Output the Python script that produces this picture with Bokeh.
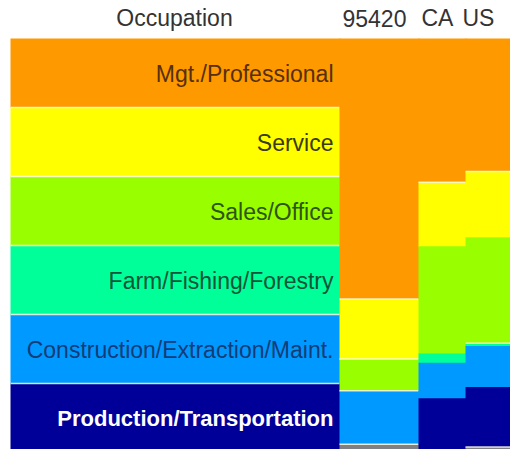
from bokeh.plotting import figure
from bokeh.models import Range1d
from bokeh.core.properties import value
from bokeh.embed import file_html
from bokeh.resources import INLINE

# ---- data ----
occupations = ["Mgt./Professional", "Service", "Sales/Office",
               "Farm/Fishing/Forestry", "Construction/Extraction/Maint.",
               "Production/Transportation"]
areas = ["95420", "CA", "US"]
share_95420 = [62.9, 14.5, 7.7, 0.0, 12.9, 0.0]
share_CA = [34.7, 15.5, 25.9, 2.2, 8.6, 13.1]
share_US = [32.1, 15.9, 25.6, 0.7, 9.9, 14.5]
shares = [share_95420, share_CA, share_US]

# ---- styles / layout ----
fills = ["#FF9900", "#FFFF00", "#99FF00", "#00FF99", "#0099FF", "#000099"]
text_cols = ["#55300a", "#3a3a10", "#2d550d", "#0d5538", "#103c78", "#ffffff"]
rest_col = "#7f7f86"
FONT = "Liberation Sans"

W, H = 510, 449
PX_PER_PCT = 4.14           # pixels per percent
ZERO_IMG = 452.0            # image y of 0 %
def yv(img_y):               # image-pixel y -> data value
    return (ZERO_IMG - img_y) / PX_PER_PCT

LEG_L, LEG_W = 10, 329
COL_W = [79, 47, 45]
OVL = 1.0                   # small overlap to avoid anti-alias seams
OVL_Y = 0.15

p = figure(width=W, height=H, output_backend="svg", toolbar_location=None,
           x_range=Range1d(0, W), y_range=Range1d(yv(H), yv(0)),
           min_border=0, outline_line_color=None)
p.axis.visible = False
p.grid.visible = False
p.background_fill_color = "white"
p.border_fill_color = "white"

sep_kw = dict(line_color="#fffbe0", line_alpha=0.85, line_width=1.5)

# legend column: equal-height rows
n = len(occupations)
row_h = 100.0 / n
tops = [100 - i * row_h for i in range(n)]
bots = [t - row_h for t in tops]
p.quad(left=[LEG_L] * n, right=[LEG_L + LEG_W + OVL] * n, top=tops,
       bottom=[b - OVL_Y for b in bots],
       fill_color=fills, line_color=None)
p.segment(x0=[LEG_L] * (n - 1), x1=[LEG_L + LEG_W] * (n - 1),
          y0=tops[1:], y1=tops[1:], **sep_kw)
for i, occ in enumerate(occupations):
    bold = i == n - 1
    p.text(x=[LEG_L + LEG_W - 6], y=[(tops[i] + bots[i]) / 2 - 0.2], text=[occ],
           text_align="right", text_baseline="middle",
           text_font=value(FONT), text_font_size="22px" if bold else "23px",
           text_font_style="bold" if bold else "normal",
           text_color=text_cols[i])

# stacked columns
x = LEG_L + LEG_W
for ci, vals in enumerate(shares):
    left, right = x, x + COL_W[ci]
    top = 100.0
    ts, bs, cs = [], [], []
    for v, c in zip(vals, fills):
        if v > 0:
            ts.append(top); bs.append(top - v - OVL_Y); cs.append(c)
        top -= v
    if top > 0.05:
        ts.append(top); bs.append(0); cs.append(rest_col)
    p.quad(left=[left] * len(ts), right=[right + OVL] * len(ts), top=ts,
           bottom=bs, fill_color=cs, line_color=None)
    if ci == 0:
        sep_y = ts[1:]
    elif ci == 1:
        sep_y = [ts[1]]
    else:
        sep_y = [ts[1], ts[3]] + ([ts[-1]] if top > 0.05 else [])
    p.segment(x0=[left] * len(sep_y), x1=[right] * len(sep_y),
              y0=sep_y, y1=sep_y, **sep_kw)
    x = right

# header
hdr_y = yv(17.5)
p.text(x=[174], y=[hdr_y], text=["Occupation"], text_align="center",
       text_baseline="middle", text_font=value(FONT), text_font_size="23px",
       text_color="#333333")
hdr_x = [342, 421, 462]
p.text(x=hdr_x, y=[hdr_y] * 3, text=areas, text_align="left",
       text_baseline="middle", text_font=value(FONT), text_font_size="23px",
       text_color="#333333")

open("out.html", "w").write(file_html(p, INLINE))
